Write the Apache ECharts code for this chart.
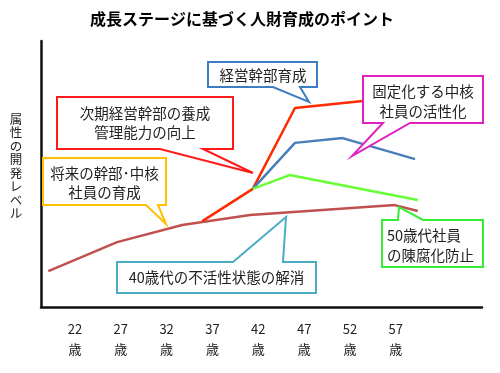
<!DOCTYPE html>
<html><head><meta charset="utf-8">
<script src="https://cdn.jsdelivr.net/npm/echarts@6/dist/echarts.min.js"></script>
<style>html,body{margin:0;padding:0;background:#fff}#c{width:500px;height:373px}</style>
</head><body><div id="c"></div>
<script>
const ageTicks = [22, 27, 32, 37, 42, 47, 52, 57];
const brownAges = [19.1, 26.6, 33.7, 41.1, 56.9, 59.4];
const brownLevels = [13.5, 24.4, 30.8, 34.6, 38.3, 36.1];
const redAges = [35.9, 41.4, 46.0, 53.4];
const redLevels = [32.3, 44.4, 74.8, 77.4];
const blueAges = [41.4, 46.0, 51.2, 59.1];
const blueLevels = [44.4, 61.7, 63.5, 55.6];
const greenAges = [41.4, 45.4, 59.4];
const greenLevels = [44.4, 49.6, 40.2];
const titleText = '成長ステージに基づく人財育成のポイント';
const yName = '属性の開発レベル';

const FONT = '"Noto Sans CJK JP", sans-serif';
const pairs = (xs, ys) => xs.map((x, i) => [x, ys[i]]);

function callout(b, side, t1, t2, tip, color, lines, textPos, align) {
  const [x1, y1, x2, y2] = b;
  let pts;
  if (side === 'bottom') {
    pts = [[x1, y1], [x2, y1], [x2, y2], [t2, y2], tip, [t1, y2], [x1, y2]];
  } else {
    pts = [[x1, y1], [t1, y1], tip, [t2, y1], [x2, y1], [x2, y2], [x1, y2]];
  }
  return [
    { type: 'polygon', z: 100, shape: { points: pts },
      style: { fill: '#fff', stroke: color, lineWidth: 2 } },
    { type: 'text', z: 101, x: textPos[0], y: textPos[1],
      style: { text: lines.join('\n'), fill: '#222', font: '14.5px ' + FONT,
        lineHeight: 19.5, align: align || 'center', verticalAlign: 'middle' } }
  ];
}

const yText = yName.split('').map((ch, i) => ({
  type: 'text', z: 100, x: 16, y: 119 + i * 13.5,
  style: { text: ch, font: '12.5px ' + FONT, fill: '#222', align: 'center', verticalAlign: 'middle' }
}));

const graphics = [].concat(
  [{ type: 'text', z: 100, x: 242, y: 19,
     style: { text: titleText, font: 'bold 16px ' + FONT, align: 'center', verticalAlign: 'middle',
       fill: new echarts.graphic.LinearGradient(0, 0, 0, 1, [
         { offset: 0, color: '#5C8FD6' }, { offset: 1, color: '#1F4F9E' }]) } }],
  yText,
  callout([208, 62, 317, 87], 'bottom', 273, 300, [309, 102], '#3C7DC4', ['経営幹部育成'], [263, 75.5]),
  callout([57, 97, 233, 149], 'bottom', 160, 203, [253, 173], '#FF1A1A', ['次期経営幹部の養成', '管理能力の向上'], [145, 123]),
  callout([43, 158, 166, 205], 'bottom', 146, 158, [166, 224], '#FFC000', ['将来の幹部･中核', '社員の育成'], [104.5, 183]),
  callout([363, 76, 483, 123], 'bottom', 383, 410, [352, 156], '#E020C0', ['固定化する中核', '社員の活性化'], [423, 101.5]),
  callout([117, 262, 316, 293], 'top', 233, 283, [286, 217], '#4BACC6', ['40歳代の不活性状態の解消'], [216.5, 277.5]),
  callout([382, 220, 483, 267], 'top', 398, 423, [399, 207], '#33EE33', ['50歳代社員', 'の陳腐化防止'], [387, 245.5], 'left')
);

const chart = echarts.init(document.getElementById('c'), null, { renderer: 'canvas' });
const lineSeries = (data, color) => ({
  type: 'line', data, symbol: 'none', silent: true, z: 2,
  lineStyle: { color, width: 2.5 }
});
chart.setOption({
  animation: false,
  backgroundColor: '#fff',
  grid: { left: 41, right: 18, top: 41, bottom: 66 },
  xAxis: {
    type: 'value', min: 18.3, max: 66.4,
    axisLine: { show: true, lineStyle: { color: '#111', width: 2.5 } },
    axisTick: { show: false }, splitLine: { show: false },
    axisLabel: { customValues: ageTicks, formatter: v => v + '\n歳', color: '#222',
      fontSize: 13, lineHeight: 20, margin: 12, fontFamily: FONT }
  },
  yAxis: {
    type: 'value', min: 0, max: 100,
    axisLine: { show: true, lineStyle: { color: '#111', width: 2.5 } },
    axisTick: { show: false }, splitLine: { show: false }, axisLabel: { show: false }
  },
  series: [
    lineSeries(pairs(brownAges, brownLevels), '#C0504D'),
    lineSeries(pairs(redAges, redLevels), '#FF2A00'),
    lineSeries(pairs(blueAges, blueLevels), '#4A7EBB'),
    lineSeries(pairs(greenAges, greenLevels), '#66FF33')
  ],
  graphic: graphics
});
</script></body></html>
